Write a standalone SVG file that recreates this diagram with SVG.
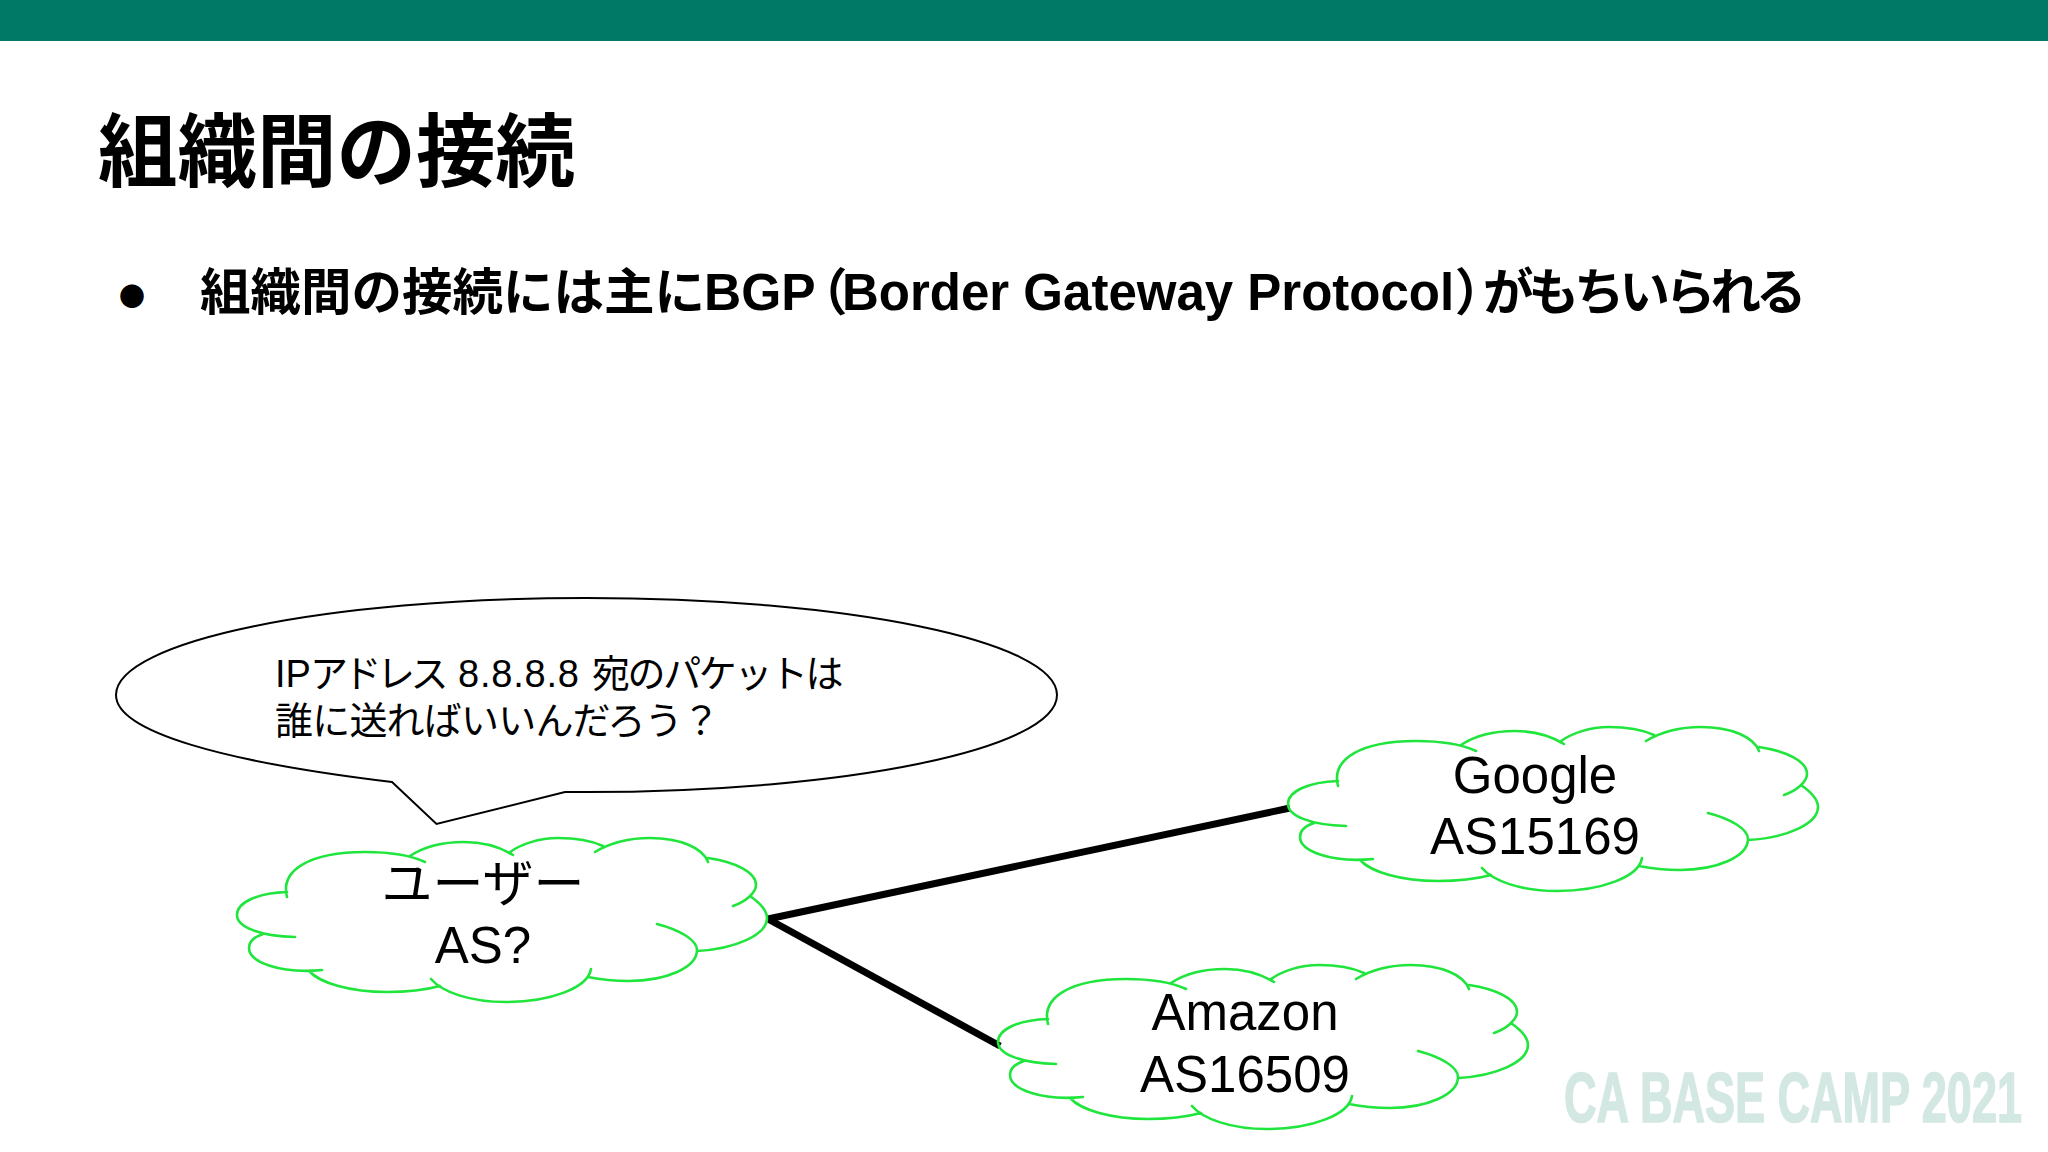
<svg xmlns="http://www.w3.org/2000/svg" xmlns:xlink="http://www.w3.org/1999/xlink" width="2048" height="1152" viewBox="0 0 2048 1152">
<style>
text{font-family:"Liberation Sans","Noto Sans CJK JP",sans-serif;fill:#000}
.h{font-weight:700}
.j{font-family:"Noto Sans CJK JP",sans-serif;font-feature-settings:"palt"}
.c{font-size:51px;text-anchor:middle}
.b{font-size:38px}
.cloud{fill:none;stroke:#1fe53c;stroke-width:2.6;stroke-linecap:round}
.link{stroke:#000;stroke-width:7;fill:none}
</style>
<defs>
<path id="cloud" class="cloud" d="M287 897C280 870 310 852 365 852C390 852 410 855 425 862M410 856C425 846 445 842 464 842C485 842 500 847 513 855M509 853C520 844 540 838 558 838C575 838 592 841 603 846M595 852C610 843 630 838 650 838C680 838 703 848 708 862M708 858C735 862 756 872 756 885C756 893 745 902 733 906M750 896C760 903 767 910 767 918C767 935 735 949 697 951M657 924C680 930 697 940 697 950C697 968 665 981 629 981C612 981 598 979 588 977M591 969C588 988 550 1002 506 1002C470 1002 442 992 431 979M440 986C425 990 405 992 387 992C350 992 320 983 309 971M322 970C280 974 249 962 249 948C249 942 254 937 263 934M295 937C260 936 237 927 237 915C237 902 258 893 287 892"/>
</defs>
<rect width="2048" height="1152" fill="#fff"/>
<rect id="top-bar" width="2048" height="41" fill="#007a66"/>
<text id="title" class="h" x="98" y="180" font-size="79.500">組織間の接続</text>
<g id="bullet">
<text class="h j" x="119" y="306" font-size="26">●</text>
<text class="h" y="310" font-size="50.500"><tspan x="200">組織間の接続には主に</tspan><tspan x="704" font-size="51.500">BGP</tspan><tspan x="820" class="j">（</tspan><tspan x="842" font-size="51">Border Gateway Protocol</tspan><tspan x="1457" class="j">）</tspan><tspan x="1483" letter-spacing="-5">がもちいられる</tspan></text>
</g>
<g id="connectors">
<line class="link" x1="768" y1="919" x2="1290" y2="808"/>
<line class="link" x1="768" y1="919" x2="1000" y2="1046"/>
</g>
<g id="callout">
<path d="M392 782C225 762 116 732 116 695C116 641 327 598 586.500 598C846 598 1057 641 1057 695C1057 749 846 792 586.500 792C575 792 570 792 565 792L436.500 824Z" fill="#fff" stroke="#000" stroke-width="2"/>
<text class="b" x="275" y="687">IP<tspan x="310" letter-spacing="-4.500">アドレス</tspan><tspan x="458" letter-spacing="0.800">8.8.8.8</tspan><tspan x="592" letter-spacing="-2.400">宛のパケットは</tspan></text>
<text class="b" x="275" y="734" letter-spacing="-0.800">誰に送ればいいんだろう？</text>
</g>
<g id="user">
<use href="#cloud"/>
<text class="c" x="483" y="902">ユーザー</text>
<text class="c" x="483" y="963">AS?</text>
</g>
<g id="google">
<use href="#cloud" x="1051" y="-111"/>
<text class="c" x="1535" y="793">Google</text>
<text class="c" x="1535" y="854">AS15169</text>
</g>
<g id="amazon">
<use href="#cloud" x="761" y="127"/>
<text class="c" x="1245" y="1030">Amazon</text>
<text class="c" x="1245" y="1092">AS16509</text>
</g>
<text id="watermark" class="h" x="1564" y="1122" font-size="70" style="fill:#d3e7e3;stroke:#d3e7e3;stroke-width:1.500" textLength="458" lengthAdjust="spacingAndGlyphs">CA BASE CAMP 2021</text>
</svg>
